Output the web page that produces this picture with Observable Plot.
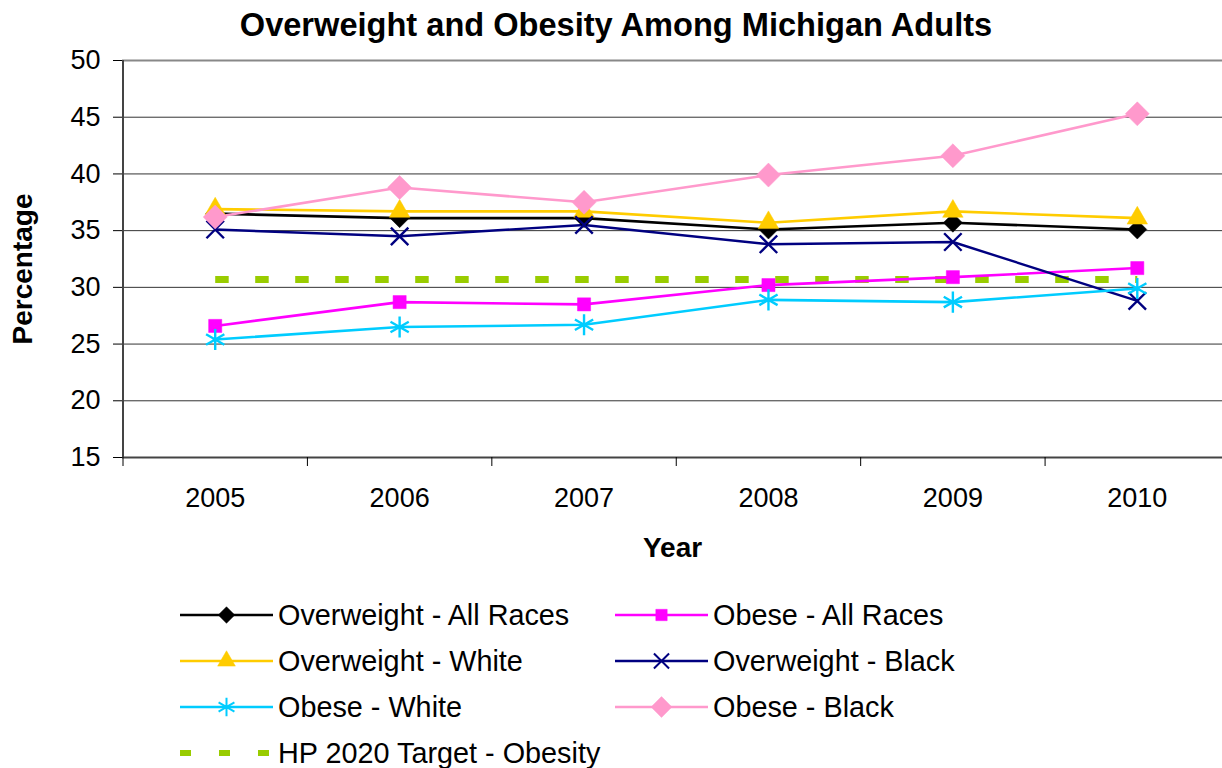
<!DOCTYPE html>
<html>
<head>
<meta charset="utf-8">
<script src="https://cdn.jsdelivr.net/npm/d3@7"></script>
<script src="https://cdn.jsdelivr.net/npm/@observablehq/plot@0.6"></script>
<style>
  html, body { margin: 0; padding: 0; background: #fff; }
  body { width: 1222px; height: 768px; overflow: hidden; position: relative;
         font-family: "Liberation Sans", Arial, sans-serif; color: #000; }
  #chart { position: absolute; top: 40px; left: 0; }
  #title { position: absolute; top: 0; left: 0; width: 1232px; text-align: center;
           line-height: 50px; font-size: 32.6px; font-weight: bold; z-index: 2; }
  #legend { position: absolute; top: 592px; left: 0; width: 1222px; height: 176px; }
  .item { position: absolute; height: 46px; display: flex; align-items: center; }
  .item svg { flex: none; margin-right: 5px; }
  .item span { font-size: 28.8px; white-space: nowrap; }
</style>
</head>
<body>
<div id="chart"></div>
<div id="title">Overweight and Obesity Among Michigan Adults</div>
<div id="legend"></div>
<script>
// ---- data ----
const years = [2005, 2006, 2007, 2008, 2009, 2010];
const overweightAll   = [36.5, 36.1, 36.1, 35.1, 35.7, 35.1];
const obeseAll        = [26.6, 28.7, 28.5, 30.2, 30.9, 31.7];
const overweightWhite = [36.9, 36.7, 36.7, 35.7, 36.7, 36.1];
const overweightBlack = [35.1, 34.5, 35.5, 33.8, 34.0, 28.8];
const obeseWhite      = [25.4, 26.5, 26.7, 28.9, 28.7, 29.9];
const obeseBlack      = [36.2, 38.8, 37.5, 39.9, 41.6, 45.3];
const hpTarget        = [30.7, 30.7, 30.7, 30.7, 30.7, 30.7];
const yTicks = [15, 20, 25, 30, 35, 40, 45, 50];
const seriesNames = ["Overweight - All Races", "Obese - All Races", "Overweight - White",
  "Overweight - Black", "Obese - White", "Obese - Black", "HP 2020 Target - Obesity"];

// ---- styles ----
const styles = [
  {values: overweightAll,   color: "#000000", symbol: "diamond2", r: 8.6, filled: true,  w: 2.6},
  {values: obeseAll,        color: "#FF00FF", symbol: "square",   r: 7.4, filled: true,  w: 2.6},
  {values: overweightWhite, color: "#FFCC00", symbol: "triangle", r: 7.6, filled: true,  w: 2.6},
  {values: overweightBlack, color: "#000080", symbol: "times",    r: 8.0, filled: false, w: 2.4},
  {values: obeseWhite,      color: "#00CCFF", symbol: "asterisk", r: 10.0, filled: false, w: 2.6},
  {values: obeseBlack,      color: "#FF99CC", symbol: "diamond2", r: 10.8, filled: true, w: 2.6}
];
const targetColor = "#99CC00";

const toRows = (vals, name) => years.map((year, i) => ({year, value: vals[i], series: name}));
const bounds = d3.range(2004.5, 2011, 1);
const font = '"Liberation Sans", Arial, sans-serif';

const marks = [
  Plot.ruleY(yTicks.filter(v => v > 15 && v < 50), {y: d => d, stroke: "#333", strokeWidth: 1}),
  Plot.ruleY([50], {y: d => d, stroke: "#888", strokeWidth: 2}),
  Plot.line(toRows(hpTarget, seriesNames[6]), {x: "year", y: "value", stroke: targetColor,
    strokeWidth: 7, strokeDasharray: "13.5,26.5", strokeLinecap: "butt"})
];
styles.forEach((s, i) => {
  const rows = toRows(s.values, seriesNames[i]);
  marks.push(Plot.line(rows, {x: "year", y: "value", stroke: s.color, strokeWidth: s.w}));
});
styles.forEach((s, i) => {
  const rows = toRows(s.values, seriesNames[i]);
  marks.push(Plot.dot(rows, {x: "year", y: "value", symbol: () => s.symbol, r: s.r,
    fill: s.filled ? s.color : "none", stroke: s.color, strokeWidth: s.filled ? 0.5 : 2.4}));
});
marks.push(
  Plot.ruleY([15], {y: d => d, stroke: "#444", strokeWidth: 2}),
  Plot.ruleX([2004.5], {x: d => d, stroke: "#444", strokeWidth: 2}),
  Plot.axisY(yTicks, {anchor: "left", tickSize: 9, tickPadding: 13, stroke: "#000",
    fontSize: 27, label: null, tickFormat: d => String(d)}),
  Plot.axisX(bounds, {anchor: "bottom", tickSize: 9, stroke: "#000", tickFormat: () => "", label: null}),
  Plot.axisX(years, {anchor: "bottom", tickSize: 0, tickPadding: 30, fontSize: 27,
    tickFormat: d => String(d), label: null}),
  Plot.text(["Year"], {frameAnchor: "bottom", dy: 91, lineAnchor: "middle", textAnchor: "middle",
    fontSize: 28, fontWeight: "bold", text: d => d}),
  Plot.text(["Percentage"], {frameAnchor: "left", dx: -99, dy: 10, rotate: -90,
    textAnchor: "middle", lineAnchor: "middle", fontSize: 28, fontWeight: "bold", text: d => d})
);

const chart = Plot.plot({
  width: 1222,
  height: 540,
  marginTop: 20,
  marginBottom: 123,
  marginLeft: 122,
  marginRight: 0,
  x: {type: "linear", domain: [2004.5, 2010.5], range: [122.5, 1229], label: null},
  y: {domain: [15, 50], label: null},
  style: {fontFamily: font, fontSize: "27px", color: "#000", background: "none", overflow: "visible"},
  marks
});
document.getElementById("chart").append(chart);

// ---- legend ----
const legend = d3.select("#legend");
const symMap = {diamond2: d3.symbolDiamond2, square: d3.symbolSquare, triangle: d3.symbolTriangle,
  times: d3.symbolTimes, asterisk: d3.symbolAsterisk};
const slots = [[180, 0], [615, 0], [180, 1], [615, 1], [180, 2], [615, 2], [180, 3]];
seriesNames.forEach((name, i) => {
  const [left, row] = slots[i];
  const item = legend.append("div").attr("class", "item")
    .style("left", left + "px").style("top", (row * 46) + "px");
  const svg = item.append("svg").attr("width", 93).attr("height", 30);
  if (i === 6) {
    svg.append("line").attr("x1", 0).attr("x2", 93).attr("y1", 15).attr("y2", 15)
      .attr("stroke", targetColor).attr("stroke-width", 6).attr("stroke-dasharray", "11,28");
  } else {
    const s = styles[i];
    svg.append("line").attr("x1", 0).attr("x2", 93).attr("y1", 15).attr("y2", 15)
      .attr("stroke", s.color).attr("stroke-width", s.w);
    svg.append("path").attr("transform", "translate(46.5,15)")
      .attr("d", d3.symbol(symMap[s.symbol], Math.PI * s.r * s.r * 0.75)())
      .attr("fill", s.filled ? s.color : "none").attr("stroke", s.color)
      .attr("stroke-width", s.filled ? 0.5 : 2);
  }
  item.append("span").text(name);
});
</script>
</body>
</html>
